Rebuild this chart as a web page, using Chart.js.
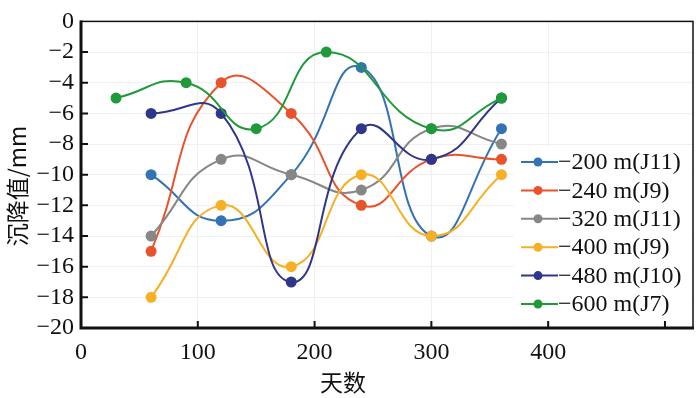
<!DOCTYPE html>
<html>
<head>
<meta charset="utf-8">
<script src="https://cdn.jsdelivr.net/npm/chart.js@4.4.0/dist/chart.umd.min.js"></script>
<style>
  html, body { margin: 0; padding: 0; background: #fff; }
  #wrap { width: 700px; height: 398px; }
</style>
</head>
<body>
<div id="wrap"><canvas id="chart" width="700" height="398"></canvas></div>
<script>
// Data
const seriesNames = ['−200 m(J11)', '−240 m(J9)', '−320 m(J11)', '−400 m(J9)', '−480 m(J10)', '−600 m(J7)'];
const seriesColors = ['#3372b5', '#e9532c', '#878787', '#f6b025', '#2f378a', '#1f9a3b'];
const days = [60, 120, 180, 240, 300, 360];
const daysJ7 = [30, 90, 150, 210, 300, 360];
const j11a = [-10, -13, -10, -3, -14, -7];
const j9a = [-15, -4, -6, -12, -9, -9];
const j11b = [-14, -9, -10, -11, -7, -8];
const j9b = [-18, -12, -16, -10, -14, -10];
const j10 = [-6, -6, -17, -7, -9, -5];
const j7 = [-5, -4, -7, -2, -7, -5];
const xTicks = [0, 100, 200, 300, 400];
const yTicks = [0, -2, -4, -6, -8, -10, -12, -14, -16, -18, -20];

const serif = '"Liberation Serif", "Times New Roman", serif';
const cjk = '"Noto Sans CJK SC", sans-serif';

const seriesValues = [j11a, j9a, j11b, j9b, j10, j7];
const datasets = seriesValues.map((vals, i) => {
    const xs = i === 5 ? daysJ7 : days;
    return {
        label: seriesNames[i],
        data: vals.map((v, k) => ({ x: xs[k], y: v })),
        borderColor: seriesColors[i],
        backgroundColor: seriesColors[i],
        borderWidth: 2,
        pointRadius: 5.5,
        pointBorderWidth: 0,
        tension: 0.5,
        order: 5 - i
    };
});

const fmt = v => String(v).replace('-', '−');

// frame, inward ticks, axis titles, legend
const decor = {
    id: 'decor',
    afterDatasetsDraw(chart) {
        const { ctx, chartArea: a, scales } = chart;
        ctx.save();
        // legend box
        const lx = 514, ly = 147;
        ctx.fillStyle = '#fff';
        ctx.fillRect(lx, ly, a.right - lx - 2, 175);
        seriesNames.forEach((name, i) => {
            const y = 162 + i * 28.4;
            ctx.strokeStyle = seriesColors[i];
            ctx.lineWidth = 2;
            ctx.beginPath();
            ctx.moveTo(521, y);
            ctx.lineTo(558, y);
            ctx.stroke();
            ctx.fillStyle = seriesColors[i];
            ctx.beginPath();
            ctx.arc(538, y, 4.5, 0, Math.PI * 2);
            ctx.fill();
            ctx.fillStyle = '#111';
            ctx.font = '24px ' + serif;
            ctx.textAlign = 'left';
            ctx.textBaseline = 'middle';
            ctx.fillText(name, 558, y + 1);
        });
        // frame
        ctx.strokeStyle = '#111';
        ctx.lineWidth = 1.5;
        ctx.strokeRect(a.left, a.top, a.right - a.left, a.bottom - a.top);
        ctx.lineWidth = 3;
        ctx.beginPath();
        ctx.moveTo(a.left, a.top - 1);
        ctx.lineTo(a.left, a.bottom);
        ctx.lineTo(a.right + 1, a.bottom);
        ctx.stroke();
        // inward ticks
        ctx.lineWidth = 2;
        ctx.beginPath();
        xTicks.concat([500]).forEach(t => {
            const x = scales.x.getPixelForValue(t);
            if (x <= a.left + 2 || x >= a.right - 2) return;
            ctx.moveTo(x, a.bottom);
            ctx.lineTo(x, a.bottom - 7);
        });
        yTicks.forEach(t => {
            const y = scales.y.getPixelForValue(t);
            if (y <= a.top + 2 || y >= a.bottom - 2) return;
            ctx.moveTo(a.left, y);
            ctx.lineTo(a.left + 7, y);
        });
        ctx.stroke();
        // axis titles
        ctx.fillStyle = '#111';
        ctx.font = '23px ' + cjk;
        ctx.textAlign = 'center';
        ctx.textBaseline = 'middle';
        ctx.fillText('天数', 343, 382);
        ctx.translate(17, 186);
        ctx.rotate(-Math.PI / 2);
        ctx.fillText('沉降值/mm', 0, 0);
        ctx.restore();
    }
};

new Chart(document.getElementById('chart'), {
    type: 'line',
    data: { datasets },
    options: {
        responsive: false,
        animation: false,
        layout: { padding: { top: 13, right: 7, left: 0, bottom: 0 } },
        plugins: { legend: { display: false }, tooltip: { enabled: false } },
        scales: {
            x: {
                type: 'linear',
                min: 0,
                max: 524,
                afterFit: s => { s.height = 70; },
                afterBuildTicks: s => { s.ticks = xTicks.map(v => ({ value: v })); },
                grid: { color: '#f0f0f0', drawTicks: false, lineWidth: 1 },
                border: { display: false },
                ticks: { color: '#111', font: { family: serif, size: 24 }, padding: 10, maxRotation: 0, autoSkip: false }
            },
            y: {
                min: -20,
                max: 0,
                afterFit: s => { s.width = 81; },
                afterBuildTicks: s => { s.ticks = yTicks.map(v => ({ value: v })); },
                grid: { color: '#f0f0f0', drawTicks: false, lineWidth: 1 },
                border: { display: false },
                ticks: { color: '#111', font: { family: serif, size: 24 }, padding: 7, autoSkip: false, callback: v => fmt(v) }
            }
        }
    },
    plugins: [decor]
});
</script>
</body>
</html>
